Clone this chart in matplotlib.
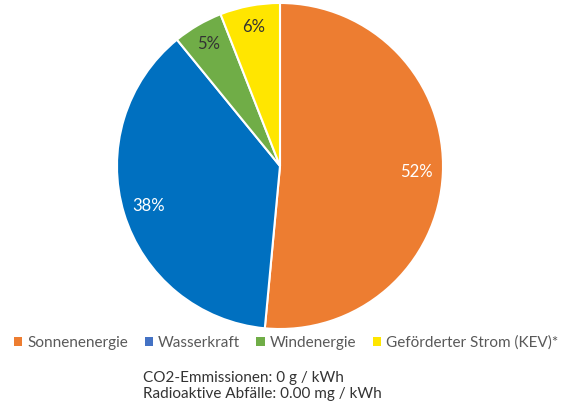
import numpy as np
import matplotlib
matplotlib.use("Agg")
import matplotlib.pyplot as plt
from matplotlib.patches import Patch

plt.rcParams['font.family'] = ['Lato', 'DejaVu Sans']

# DATA
labels = ['Sonnenenergie', 'Wasserkraft', 'Windenergie', 'Geförderter Strom (KEV)*']
values = [52, 38, 5, 6]
colors = ['#ED7D31', '#0070C0', '#70AD47', '#FFE600']
legend_colors = ['#ED7D31', '#4472C4', '#70AD47', '#FFE600']
text_colors = ['white', 'white', '#333333', '#333333']
notes = ['CO2-Emmissionen: 0 g / kWh', 'Radioaktive Abfälle: 0.00 mg / kWh']

fig = plt.figure(figsize=(5.72, 4.03), dpi=100)
ax = fig.add_axes([0.2045, 0.1836, 0.570, 0.809])

wedges, texts = ax.pie(values, colors=colors, startangle=90, counterclock=False,
                       wedgeprops=dict(edgecolor='white', linewidth=1.5))
for w, v, tc in zip(wedges, values, text_colors):
    ang = np.deg2rad((w.theta1 + w.theta2) / 2)
    r = 0.84 if v > 10 else 0.87
    ax.text(r * np.cos(ang), r * np.sin(ang), f'{v}%', ha='center', va='center',
            color=tc, fontsize=12)
ax.set_xlim(-1, 1)
ax.set_ylim(-1, 1)
ax.set_aspect('equal')

handles = [Patch(facecolor=c, edgecolor='none') for c in legend_colors]
fig.legend(handles, labels, loc='center', bbox_to_anchor=(0.5, 1 - 343 / 403),
           ncol=4, frameon=False, fontsize=11, labelcolor='#595959',
           handlelength=0.55, handleheight=0.55, handletextpad=0.3, columnspacing=1.1)

fig.text(143 / 572, 1 - 378 / 403, notes[0], ha='left', va='center', fontsize=11, color='#333333')
fig.text(143 / 572, 1 - 394 / 403, notes[1], ha='left', va='center', fontsize=11, color='#333333')

fig.savefig('out.png', dpi=100)
